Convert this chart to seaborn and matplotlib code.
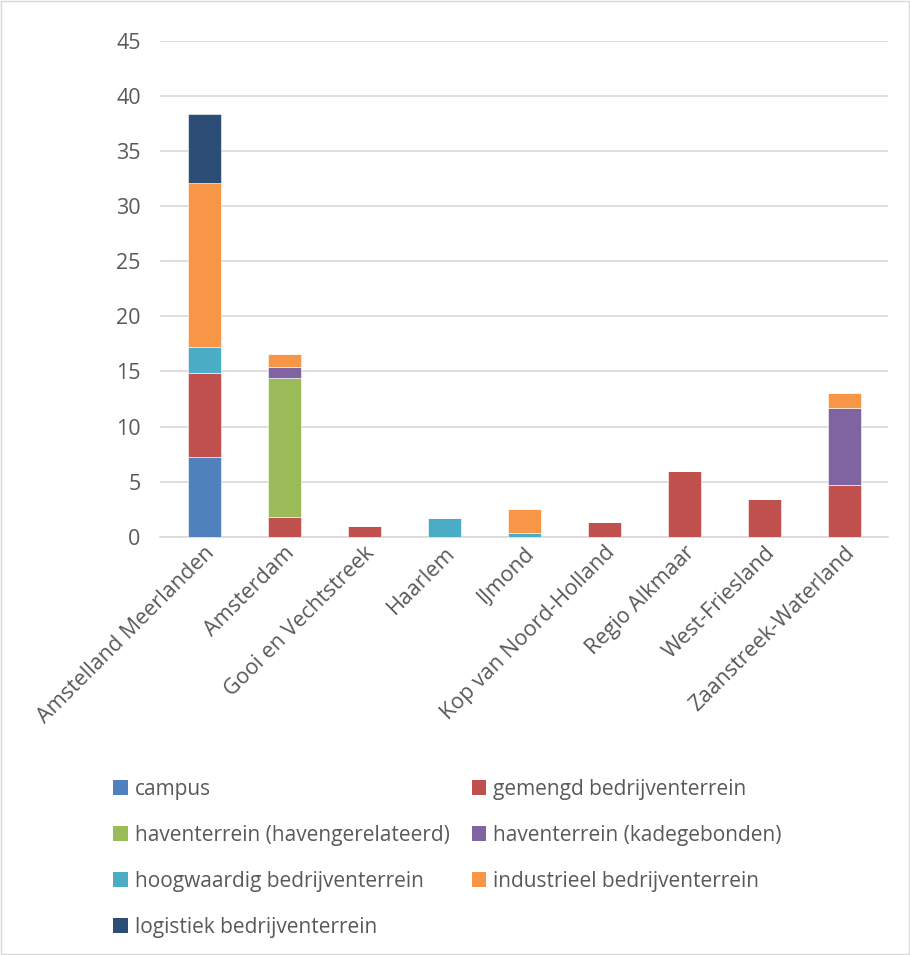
import matplotlib
matplotlib.use("Agg")
import matplotlib.pyplot as plt
from matplotlib.patches import Patch, Rectangle
import numpy as np
import pandas as pd
import seaborn as sns

regions = ["Amstelland Meerlanden", "Amsterdam", "Gooi en Vechtstreek", "Haarlem",
           "IJmond", "Kop van Noord-Holland", "Regio Alkmaar", "West-Friesland",
           "Zaanstreek-Waterland"]

campus = [7.2, 0, 0, 0, 0, 0, 0, 0, 0]
gemengd = [7.7, 1.8, 1.0, 0, 0, 1.3, 6.0, 3.45, 4.7]
haven_gerelateerd = [0, 12.6, 0, 0, 0, 0, 0, 0, 0]
haven_kade = [0, 1.05, 0, 0, 0, 0, 0, 0, 6.95]
hoogwaardig = [2.3, 0, 0, 1.7, 0.35, 0, 0, 0, 0]
industrieel = [14.9, 1.15, 0, 0, 2.15, 0, 0, 0, 1.4]
logistiek = [6.3, 0, 0, 0, 0, 0, 0, 0, 0]

series = [
    ("campus", campus, "#4F81BD"),
    ("gemengd bedrijventerrein", gemengd, "#C0504D"),
    ("haventerrein (havengerelateerd)", haven_gerelateerd, "#9BBB59"),
    ("haventerrein (kadegebonden)", haven_kade, "#8064A2"),
    ("hoogwaardig bedrijventerrein", hoogwaardig, "#4BACC6"),
    ("industrieel bedrijventerrein", industrieel, "#F79646"),
    ("logistiek bedrijventerrein", logistiek, "#2C4D75"),
]

sns.set_theme(style="white")
plt.rcParams["font.family"] = ["Open Sans", "DejaVu Sans"]
text_color = "#595959"

fig = plt.figure(figsize=(9.1, 9.55), dpi=100)
ax = fig.add_axes([0.176, 0.438, 0.800, 0.519])

bottom = np.zeros(len(regions))
for name, vals, color in series:
    df = pd.DataFrame({"regio": regions, "waarde": vals})
    sns.barplot(data=df, x="regio", y="waarde", color=color, bottom=bottom,
                width=0.41, ax=ax, edgecolor="white", linewidth=0.4,
                saturation=1, zorder=3)
    bottom = bottom + np.array(vals)

ax.set_ylim(0, 45)
ax.set_yticks(range(0, 46, 5))
ax.set_xlim(-0.55, len(regions) - 0.45)
ax.grid(axis="y", color="#D9D9D9", linewidth=1.2, zorder=0)
ax.set_axisbelow(True)
for s in ["top", "right", "left"]:
    ax.spines[s].set_visible(False)
ax.spines["bottom"].set_color("#D9D9D9")
ax.spines["bottom"].set_linewidth(1.2)
ax.set_xlabel("")
ax.set_ylabel("")
ax.tick_params(axis="y", labelsize=15.5, colors=text_color, length=0, pad=14)
ax.tick_params(axis="x", labelsize=15.5, colors=text_color, length=0, pad=4)
plt.setp(ax.get_xticklabels(), rotation=45, ha="right", rotation_mode="anchor")

# legend is filled column by column, so order the entries to read row by row
handles = [Patch(facecolor=c, edgecolor="none", label=n) for n, _, c in series]
order = [0, 2, 4, 6, 1, 3, 5]
fig.legend(handles=[handles[i] for i in order], ncol=2, loc="upper left",
           bbox_to_anchor=(0.115, 0.193), frameon=False,
           fontsize=15, labelcolor=text_color,
           handlelength=0.7, handleheight=0.7, handletextpad=0.35,
           columnspacing=1.05, labelspacing=1.2, borderaxespad=0)

fig.patches.append(Rectangle((0.001, 0.001), 0.998, 0.998, transform=fig.transFigure,
                             fill=False, edgecolor="#D9D9D9", linewidth=1))

fig.savefig("out.png", dpi=100, facecolor="white")
